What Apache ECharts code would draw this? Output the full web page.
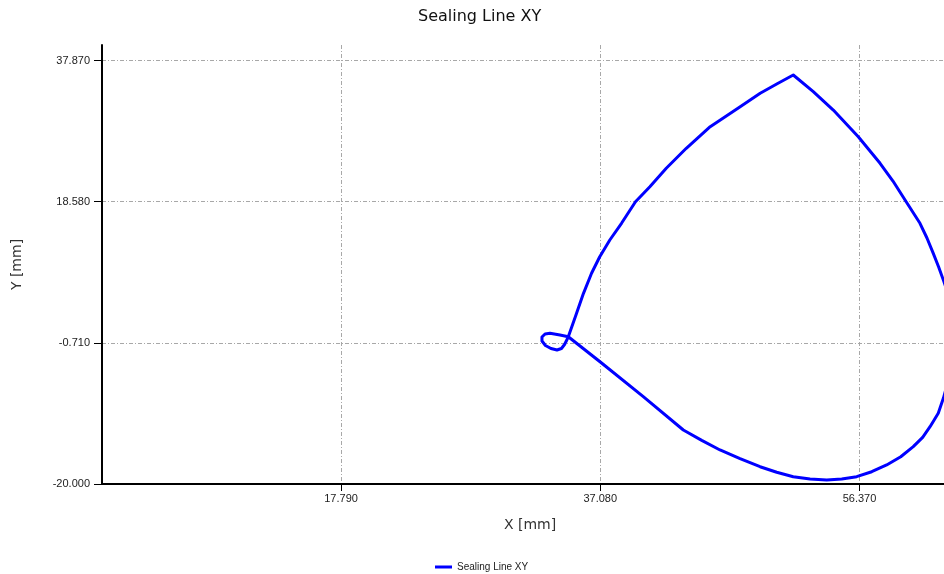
<!DOCTYPE html>
<html>
<head>
<meta charset="utf-8">
<title>Sealing Line XY</title>
<script src="https://cdn.jsdelivr.net/npm/echarts@6/dist/echarts.min.js"></script>
<style>
  html, body { margin: 0; padding: 0; background: #fff; }
  #chart { width: 944px; height: 574px; }
</style>
</head>
<body>
<div id="chart"></div>
<script>
// Sealing line contour, X/Y in mm (closed path, drawn in travel order):
// upper arc -> apex -> right flank -> bottom -> return line -> small loop
const xValues = [
  34.70, 35.27, 35.83, 36.43, 37.04, 37.79, 38.66, 39.70, 40.77, 41.99,
  43.48, 45.26, 47.49, 48.98, 50.21, 51.44,
  52.93, 54.42, 56.28, 57.90, 58.86, 59.76, 60.87, 61.39, 61.86, 62.26,
  62.61, 62.99, 63.18, 63.29, 63.22, 62.99, 62.61, 62.23, 61.62, 61.07,
  60.37, 59.44, 58.39, 57.28, 56.16, 55.05, 53.93, 52.69, 51.44, 50.21,
  48.97, 47.48, 45.99, 44.63, 43.26, 40.28, 37.06, 34.70,
  34.08, 33.34, 32.97, 32.74, 32.74, 33.00, 33.41, 33.86, 34.19, 34.42,
  34.57, 34.70
];
const yValues = [
  0.13, 3.10, 6.06, 8.80, 11.06, 13.35, 15.63, 18.58, 20.63, 23.15,
  25.88, 28.83, 31.56, 33.40, 34.67, 35.90,
  33.62, 31.11, 27.47, 23.83, 21.41, 18.81, 15.63, 13.62, 11.53, 9.66,
  7.88, 5.83, 3.51, 0.36, -2.78, -5.79, -8.29, -10.34, -12.17, -13.62,
  -14.90, -16.27, -17.40, -18.32, -19.00, -19.32, -19.45, -19.32, -19.00, -18.40,
  -17.64, -16.54, -15.35, -14.03, -12.62, -8.07, -3.29, 0.13,
  0.36, 0.60, 0.50, 0.09, -0.46, -1.07, -1.48, -1.69, -1.48, -0.93,
  -0.39, 0.13
];

// Axis ranges and labelled tick positions
const xRange = [0, 63.7];
const yRange = [-20, 40];
const xTicks = [17.79, 37.08, 56.37];
const yTicks = [-20, -0.71, 18.58, 37.87];

const seriesName = 'Sealing Line XY';
const chartTitle = 'Sealing Line XY';
const xName = 'X [mm]';
const yName = 'Y [mm]';

const points = xValues.map((x, i) => [x, yValues[i]]);

const gridLine = { show: true, lineStyle: { color: '#a8a8a8', width: 1, type: [4, 2, 1, 2] } };

const chart = echarts.init(document.getElementById('chart'), null, { renderer: 'canvas' });
chart.setOption({
  animation: false,
  backgroundColor: '#ffffff',
  title: {
    text: chartTitle,
    left: 413,
    top: 4,
    textStyle: { fontFamily: 'DejaVu Sans', fontSize: 16, fontWeight: 'normal', color: '#111' }
  },
  legend: {
    data: [seriesName],
    icon: 'rect',
    left: 430,
    top: 557,
    itemWidth: 17,
    itemHeight: 3,
    itemGap: 6,
    textStyle: { fontFamily: 'Liberation Sans', fontSize: 10, color: '#222' }
  },
  grid: { left: 102, top: 45, width: 856, height: 439, outerBoundsMode: 'none', containLabel: false },
  xAxis: {
    type: 'value',
    min: xRange[0],
    max: xRange[1],
    name: xName,
    nameLocation: 'middle',
    nameGap: 34,
    nameTextStyle: { fontFamily: 'DejaVu Sans', fontSize: 14, color: '#333' },
    axisLine: { show: true, onZero: false, lineStyle: { color: '#000', width: 2 } },
    axisTick: { show: true, length: 7, customValues: xTicks, lineStyle: { color: '#000', width: 1 } },
    axisLabel: {
      customValues: xTicks,
      margin: 9,
      fontFamily: 'Liberation Sans', fontSize: 11, color: '#222',
      formatter: v => v.toFixed(3)
    },
    splitLine: gridLine
  },
  yAxis: {
    type: 'value',
    min: yRange[0],
    max: yRange[1],
    name: yName,
    nameLocation: 'middle',
    nameGap: 78,
    nameTextStyle: { fontFamily: 'DejaVu Sans', fontSize: 14, color: '#333' },
    axisLine: { show: true, onZero: false, lineStyle: { color: '#000', width: 2 } },
    axisTick: { show: true, length: 8, customValues: yTicks, lineStyle: { color: '#000', width: 1 } },
    axisLabel: {
      customValues: yTicks,
      margin: 12,
      fontFamily: 'Liberation Sans', fontSize: 11, color: '#222',
      formatter: v => v.toFixed(3)
    },
    splitLine: gridLine
  },
  series: [{
    name: seriesName,
    type: 'line',
    data: points,
    symbol: 'none',
    showSymbol: false,
    smooth: false,
    clip: true,
    lineStyle: { color: '#0000ff', width: 3, join: 'round', cap: 'round' },
    itemStyle: { color: '#0000ff' }
  }]
});
</script>
</body>
</html>
